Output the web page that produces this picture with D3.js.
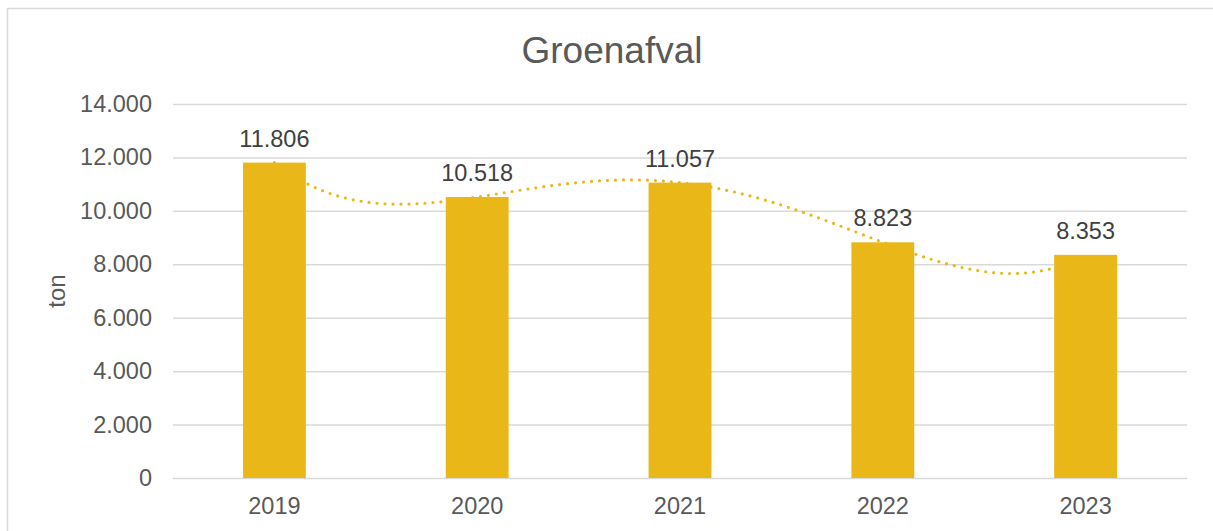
<!DOCTYPE html>
<html>
<head>
<meta charset="utf-8">
<script src="https://cdn.jsdelivr.net/npm/d3@7"></script>
<style>
  body { margin: 0; background: #fff; }
  svg { display: block; font-family: "Liberation Sans", Arial, sans-serif; }
</style>
</head>
<body>
<svg></svg>
<script>
// Data
const years = ["2019", "2020", "2021", "2022", "2023"];
const tons = [11806, 10518, 11057, 8823, 8353];
const yTicks = [0, 2000, 4000, 6000, 8000, 10000, 12000, 14000];
const title = "Groenafval";
const yLabel = "ton";

const svgWidth = 1213;
const svgHeight = 531;
const margins = {top: 104, right: 26, bottom: 53, left: 173};

const fmt = d => d3.format(",")(d).replace(/,/g, ".");

const chart = d3.select("svg")
  .attr("width", svgWidth)
  .attr("height", svgHeight);

// chart area border (runs off the right and bottom edges)
chart.append("rect")
  .attr("x", 7.5).attr("y", 8.5)
  .attr("width", 1215).attr("height", 600)
  .attr("fill", "none")
  .attr("stroke", "#d9d9d9")
  .attr("stroke-width", 1.5);

const scaleX = d3.scaleBand()
  .domain(years)
  .range([margins.left, svgWidth - margins.right])
  .paddingInner(0.69)
  .paddingOuter(0.345);

const scaleY = d3.scaleLinear()
  .domain([0, 14000])
  .range([svgHeight - margins.bottom, margins.top]);

// gridlines + y labels
const yAxis = chart.append("g")
  .attr("transform", `translate(${margins.left}, 0)`)
  .call(d3.axisLeft(scaleY)
    .tickValues(yTicks)
    .tickFormat(fmt)
    .tickSize(-(svgWidth - margins.left - margins.right))
    .tickPadding(21))
  .call(g => g.select(".domain").remove());

yAxis.selectAll(".tick line")
  .attr("stroke", "#d9d9d9")
  .attr("stroke-width", 1.5);
yAxis.selectAll(".tick text")
  .attr("fill", "#595959")
  .attr("font-size", 23.5)
  .attr("font-family", "Liberation Sans, Arial, sans-serif");

// x labels
const xAxis = chart.append("g")
  .attr("transform", `translate(0, ${svgHeight - margins.bottom})`)
  .call(d3.axisBottom(scaleX).tickSize(0).tickPadding(19))
  .call(g => g.select(".domain").remove());

xAxis.selectAll(".tick text")
  .attr("fill", "#595959")
  .attr("font-size", 23.5)
  .attr("font-family", "Liberation Sans, Arial, sans-serif");

// polynomial trendline (order 4 through the 5 points), drawn behind the bars
const trend = t => d3.sum(tons, (v, i) => {
  let l = 1;
  tons.forEach((_, j) => { if (j !== i) l *= (t - j) / (i - j); });
  return v * l;
});

const scaleT = d3.scaleLinear()
  .domain([0, years.length - 1])
  .range([scaleX(years[0]) + scaleX.bandwidth() / 2,
          scaleX(years[years.length - 1]) + scaleX.bandwidth() / 2]);

const trendPts = d3.range(0, years.length - 1 + 0.001, 0.02);

chart.append("path")
  .datum(trendPts)
  .attr("fill", "none")
  .attr("stroke", "#e9b818")
  .attr("stroke-width", 3.2)
  .attr("stroke-linecap", "round")
  .attr("stroke-dasharray", "0 8")
  .attr("d", d3.line()
    .x(t => scaleT(t))
    .y(t => scaleY(trend(t))));

// bars
chart.append("g")
  .selectAll("rect")
  .data(tons)
  .join("rect")
  .attr("x", (d, i) => scaleX(years[i]))
  .attr("y", d => scaleY(d))
  .attr("width", scaleX.bandwidth())
  .attr("height", d => scaleY(0) - scaleY(d))
  .attr("fill", "#e9b818");

// data labels
chart.append("g")
  .selectAll("text")
  .data(tons)
  .join("text")
  .attr("x", (d, i) => scaleX(years[i]) + scaleX.bandwidth() / 2)
  .attr("y", d => scaleY(d) - 16)
  .attr("text-anchor", "middle")
  .attr("fill", "#404040")
  .attr("font-size", 23.5)
  .text(fmt);

// title
chart.append("text")
  .attr("x", 612)
  .attr("y", 63)
  .attr("text-anchor", "middle")
  .attr("fill", "#595959")
  .attr("font-size", 37)
  .text(title);

// y axis title
chart.append("text")
  .attr("transform", `translate(65, ${(scaleY(0) + scaleY(14000)) / 2}) rotate(-90)`)
  .attr("text-anchor", "middle")
  .attr("fill", "#595959")
  .attr("font-size", 24)
  .text(yLabel);
</script>
</body>
</html>
